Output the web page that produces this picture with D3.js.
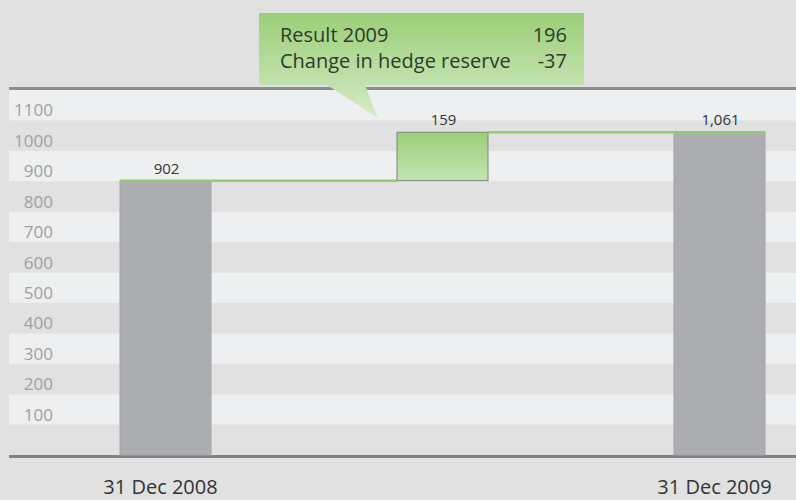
<!DOCTYPE html>
<html>
<head>
<meta charset="utf-8">
<script src="https://cdn.jsdelivr.net/npm/d3@7"></script>
<style>
  html, body { margin: 0; padding: 0; background: #e1e1e1; }
  svg { display: block; font-family: "Open Sans", sans-serif; }
</style>
</head>
<body>
<script>
// data
const categories = ["31 Dec 2008", "Change 2009", "31 Dec 2009"];
const values = [902, 159, 1061];
const valueLabels = ["902", "159", "1,061"];
const axisLabels = ["31 Dec 2008", "", "31 Dec 2009"];
const yTicks = [100, 200, 300, 400, 500, 600, 700, 800, 900, 1000, 1100];
const calloutLabels = ["Result 2009", "Change in hedge reserve"];
const calloutValues = ["196", "-37"];

const width = 796, height = 500;
const svg = d3.select("body").append("svg")
    .attr("width", width)
    .attr("height", height);

const y = d3.scaleLinear().domain([0, 1200]).range([455, 90]);
const x = d3.scalePoint().domain(categories).range([165.5, 719.5]);
const barWidth = 91;
const plotLeft = 9;

// bar extents for the waterfall
const bars = categories.map((c, i) => {
    let base = 0;
    if (i === 1) base = values[0];
    return { cat: c, lo: base, hi: base + values[i], label: valueLabels[i], change: i === 1 };
});

const defs = svg.append("defs");
const boxGrad = defs.append("linearGradient")
    .attr("id", "boxGrad").attr("x1", 0).attr("y1", 0).attr("x2", 0).attr("y2", 1);
boxGrad.append("stop").attr("offset", "0%").attr("stop-color", "#9bcf77");
boxGrad.append("stop").attr("offset", "100%").attr("stop-color", "#c5e3b3");

const calloutGrad = defs.append("linearGradient")
    .attr("id", "calloutGrad").attr("gradientUnits", "userSpaceOnUse")
    .attr("x1", 0).attr("y1", 13).attr("x2", 0).attr("y2", 118);
calloutGrad.append("stop").attr("offset", "0%").attr("stop-color", "#9bcf77");
calloutGrad.append("stop").attr("offset", "69%").attr("stop-color", "#c2e2ae");
calloutGrad.append("stop").attr("offset", "100%").attr("stop-color", "#d8eecb");

// stripes, one per 100
const bands = d3.range(0, 12);
svg.append("g").selectAll("rect")
    .data(bands)
    .join("rect")
    .attr("x", plotLeft)
    .attr("width", width - plotLeft)
    .attr("y", d => y((d + 1) * 100))
    .attr("height", d => y(d * 100) - y((d + 1) * 100))
    .attr("fill", d => d % 2 === 1 ? "#eeeff1" : "#e1e1e1");

// top and bottom rules
svg.append("line")
    .attr("x1", plotLeft).attr("x2", width)
    .attr("y1", y(1200) - 1.5).attr("y2", y(1200) - 1.5)
    .attr("stroke", "#8a8d91").attr("stroke-width", 3);
svg.append("line")
    .attr("x1", plotLeft).attr("x2", width)
    .attr("y1", y(0) + 1.5).attr("y2", y(0) + 1.5)
    .attr("stroke", "#7f8387").attr("stroke-width", 3);

// y tick labels
svg.append("g").selectAll("text")
    .data(yTicks)
    .join("text")
    .attr("x", 53)
    .attr("y", d => y(d) - 4)
    .attr("text-anchor", "end")
    .attr("font-size", 17)
    .attr("fill", "#a0a0a0")
    .text(d => d);

// bars
svg.append("g").selectAll("rect")
    .data(bars)
    .join("rect")
    .attr("x", d => x(d.cat) - barWidth / 2)
    .attr("width", barWidth)
    .attr("y", d => y(d.hi))
    .attr("height", d => y(d.lo) - y(d.hi))
    .attr("fill", d => d.change ? "url(#boxGrad)" : "#abadb1")
    .attr("stroke", d => d.change ? "#7d867b" : "#a2a4a8")
    .attr("stroke-width", 1);

// green connectors
const connectors = [
    { x1: x(categories[0]) - barWidth / 2, x2: x(categories[1]) - barWidth / 2, v: bars[0].hi },
    { x1: x(categories[1]) + barWidth / 2, x2: x(categories[2]) + barWidth / 2, v: bars[2].hi }
];
svg.append("g").selectAll("line")
    .data(connectors)
    .join("line")
    .attr("x1", d => d.x1).attr("x2", d => d.x2)
    .attr("y1", d => y(d.v)).attr("y2", d => y(d.v))
    .attr("stroke", "#92cc6f")
    .attr("stroke-width", 2.5);

// value labels
svg.append("g").selectAll("text")
    .data(bars)
    .join("text")
    .attr("x", d => x(d.cat) + 1)
    .attr("y", d => y(d.hi) - 7)
    .attr("text-anchor", "middle")
    .attr("font-size", 15)
    .attr("fill", "#333")
    .text(d => d.label);

// category labels
svg.append("g").selectAll("text")
    .data(categories)
    .join("text")
    .attr("x", d => x(d) - 5)
    .attr("y", 494)
    .attr("text-anchor", "middle")
    .attr("font-size", 20)
    .attr("fill", "#333")
    .text((d, i) => axisLabels[i]);

// callout
svg.append("path")
    .attr("d", "M259,13H584V85H365L378,118L327,85H259Z")
    .attr("fill", "url(#calloutGrad)");

const callout = svg.append("g");
callout.selectAll(".callout-label")
    .data(calloutLabels)
    .join("text")
    .attr("class", "callout-label")
    .attr("x", 280)
    .attr("y", (d, i) => 42 + i * 26)
    .attr("font-size", 20)
    .attr("fill", "#2f3a2c")
    .text(d => d);
callout.selectAll(".callout-value")
    .data(calloutValues)
    .join("text")
    .attr("class", "callout-value")
    .attr("x", 567)
    .attr("y", (d, i) => 42 + i * 26)
    .attr("text-anchor", "end")
    .attr("font-size", 20)
    .attr("fill", "#2f3a2c")
    .text(d => d);
</script>
</body>
</html>
